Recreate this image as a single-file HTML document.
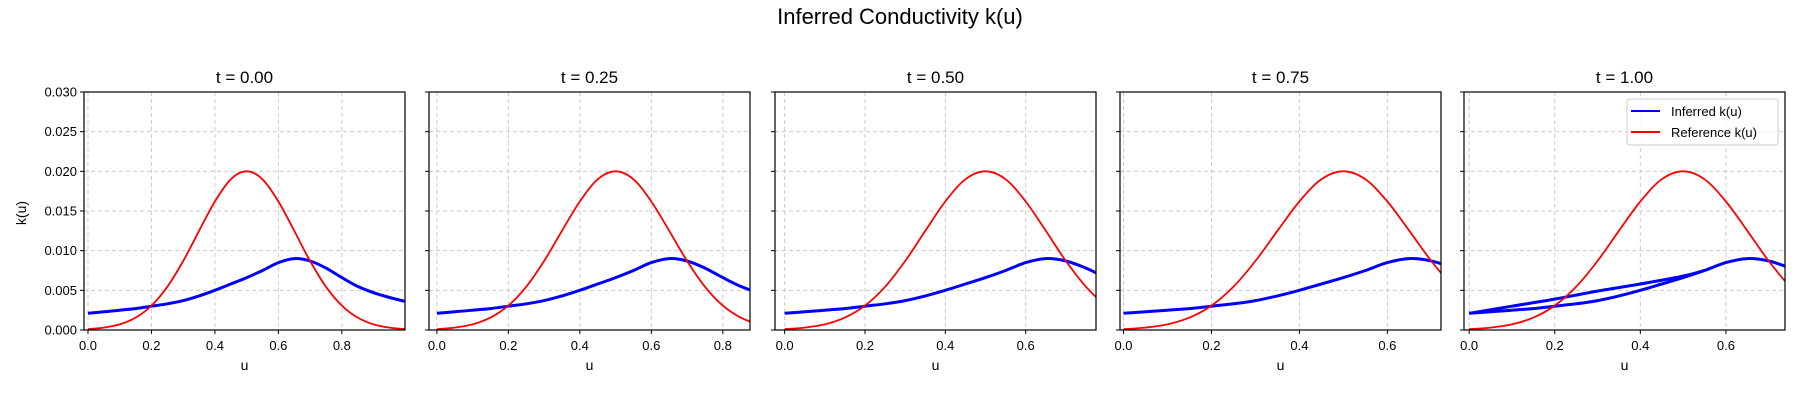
<!DOCTYPE html>
<html><head><meta charset="utf-8"><style>
body{margin:0;background:#fff;}
svg{display:block;font-family:"Liberation Sans","DejaVu Sans",sans-serif;}
</style></head><body>
<svg id="fig" width="1800" height="400" viewBox="0 0 1800 400">
<text x="900" y="24" text-anchor="middle" font-size="22" fill="#000">Inferred Conductivity k(u)</text>
<text x="0" y="0" transform="translate(26,213) rotate(-90)" text-anchor="middle" font-size="14">k(u)</text>
</svg>
<script>
const panelTitles = ["t = 0.00","t = 0.25","t = 0.50","t = 0.75","t = 1.00"];
const xMins = [-0.0126,-0.022,-0.024,-0.008,-0.012];
const xMaxs = [0.999,0.876,0.775,0.722,0.738];
const uGrid = [0,0.05,0.1,0.15,0.2,0.25,0.3,0.35,0.4,0.45,0.5,0.55,0.6,0.65,0.7,0.75,0.8,0.85,0.9,0.95,1.0];
const referenceK = [0.00011,0.0003,0.00071,0.00156,0.00307,0.00545,0.0087,0.0125,0.0162,0.019,0.02,0.019,0.0162,0.0125,0.0087,0.00545,0.00307,0.00156,0.00071,0.0003,0.00011];
const inferredK = [0.0021,0.0023,0.0025,0.0027,0.0030,0.0033,0.0037,0.0043,0.0050,0.0058,0.0066,0.0075,0.0085,0.0090,0.0087,0.0078,0.0066,0.0055,0.0047,0.0041,0.0036];
const returnU = [0,0.1,0.2,0.3,0.4,0.5,0.55];
const returnK = [0.0021,0.0030,0.0039,0.0049,0.0058,0.0068,0.0075];
const yTicks = [0,0.005,0.01,0.015,0.02,0.025,0.03];
const yTickLabels = ["0.000","0.005","0.010","0.015","0.020","0.025","0.030"];
const xTicks = [0,0.2,0.4,0.6,0.8];
const xTickLabels = ["0.0","0.2","0.4","0.6","0.8"];

const NS="http://www.w3.org/2000/svg";
const svg=document.getElementById('fig');
const lefts=[84,429,775,1120,1464], W=321, TOP=92, BOT=330;
function mk(tag,attrs,parent){const e=document.createElementNS(NS,tag);for(const k in attrs)e.setAttribute(k,attrs[k]);(parent||svg).appendChild(e);return e;}
function smooth(pts){
  let d='M'+pts[0][0].toFixed(1)+','+pts[0][1].toFixed(1);
  for(let i=0;i<pts.length-1;i++){
    const p0=pts[Math.max(0,i-1)],p1=pts[i],p2=pts[i+1],p3=pts[Math.min(pts.length-1,i+2)];
    const c1x=p1[0]+(p2[0]-p0[0])/6,c1y=p1[1]+(p2[1]-p0[1])/6;
    const c2x=p2[0]-(p3[0]-p1[0])/6,c2y=p2[1]-(p3[1]-p1[1])/6;
    d+='C'+c1x.toFixed(1)+','+c1y.toFixed(1)+' '+c2x.toFixed(1)+','+c2y.toFixed(1)+' '+p2[0].toFixed(1)+','+p2[1].toFixed(1);
  }
  return d;
}
const defs=mk('defs',{});
for(let p=0;p<5;p++){
  const L=lefts[p];
  const xs=u=>L+(u-xMins[p])/(xMaxs[p]-xMins[p])*W;
  const ys=v=>BOT-(v/0.03)*(BOT-TOP);
  const g=mk('g',{});
  
  
  const cp=mk('clipPath',{id:'c'+p},defs);
  mk('rect',{x:L,y:TOP,width:W,height:BOT-TOP},cp);
  yTicks.forEach((v,i)=>{
    const y=ys(v);
    const gl=mk('line',{x1:L,x2:L+W,y1:y,y2:y,stroke:'#ccc','stroke-width':1,'stroke-dasharray':'4,3'},g);
    
    
    mk('line',{x1:L-4,x2:L,y1:y,y2:y,stroke:'#000','stroke-width':1},g);
    if(p===0){
      const t=mk('text',{x:L-7,y:y+4.5,'text-anchor':'end','font-size':13},g);
      t.textContent=yTickLabels[i];
      
      
    }
  });
  xTicks.forEach((u,i)=>{
    if(u>xMaxs[p])return;
    const x=xs(u);
    const gl=mk('line',{x1:x,x2:x,y1:TOP,y2:BOT,stroke:'#ccc','stroke-width':1,'stroke-dasharray':'4,3'},g);
    
    
    mk('line',{x1:x,x2:x,y1:BOT,y2:BOT+4,stroke:'#000','stroke-width':1},g);
    const t=mk('text',{x:x,y:350,'text-anchor':'middle','font-size':13},g);
    t.textContent=xTickLabels[i];
    
    
  });
  const cg=mk('g',{'clip-path':'url(#c'+p+')'},g);
  const bl=mk('path',{d:smooth(uGrid.map((u,i)=>[xs(u),ys(inferredK[i])])),fill:'none',stroke:'#0000ff','stroke-width':3},cg);
  
  
  if(p===4){
    const b2=mk('path',{d:smooth(returnU.map((u,i)=>[xs(u),ys(returnK[i])])),fill:'none',stroke:'#0000ff','stroke-width':3},cg);
    
    
  }
  const rl=mk('path',{d:smooth(uGrid.map((u,i)=>[xs(u),ys(referenceK[i])])),fill:'none',stroke:'#ff0000','stroke-width':1.8},cg);
  
  
  const fr=mk('rect',{x:L,y:TOP,width:W,height:BOT-TOP,fill:'none',stroke:'#000','stroke-width':1.2},g);
  
  
  const tt=mk('text',{x:L+W/2,y:83,'text-anchor':'middle','font-size':17},g);
  tt.textContent=panelTitles[p];
  
  
  const xl=mk('text',{x:L+W/2,y:370,'text-anchor':'middle','font-size':14},g);
  xl.textContent='u';
  
  
}
const lg=mk('g',{});


mk('rect',{x:1627,y:99,width:151,height:46,rx:3,fill:'#fff','fill-opacity':0.8,stroke:'#ccc'},lg);
mk('line',{x1:1631,x2:1660,y1:111,y2:111,stroke:'#0000ff','stroke-width':2},lg);
mk('line',{x1:1631,x2:1660,y1:132,y2:132,stroke:'#ff0000','stroke-width':2},lg);
const l1=mk('text',{x:1671,y:116,'font-size':13},lg);l1.textContent='Inferred k(u)';


const l2=mk('text',{x:1671,y:137,'font-size':13},lg);l2.textContent='Reference k(u)';


</script>
</body></html>
